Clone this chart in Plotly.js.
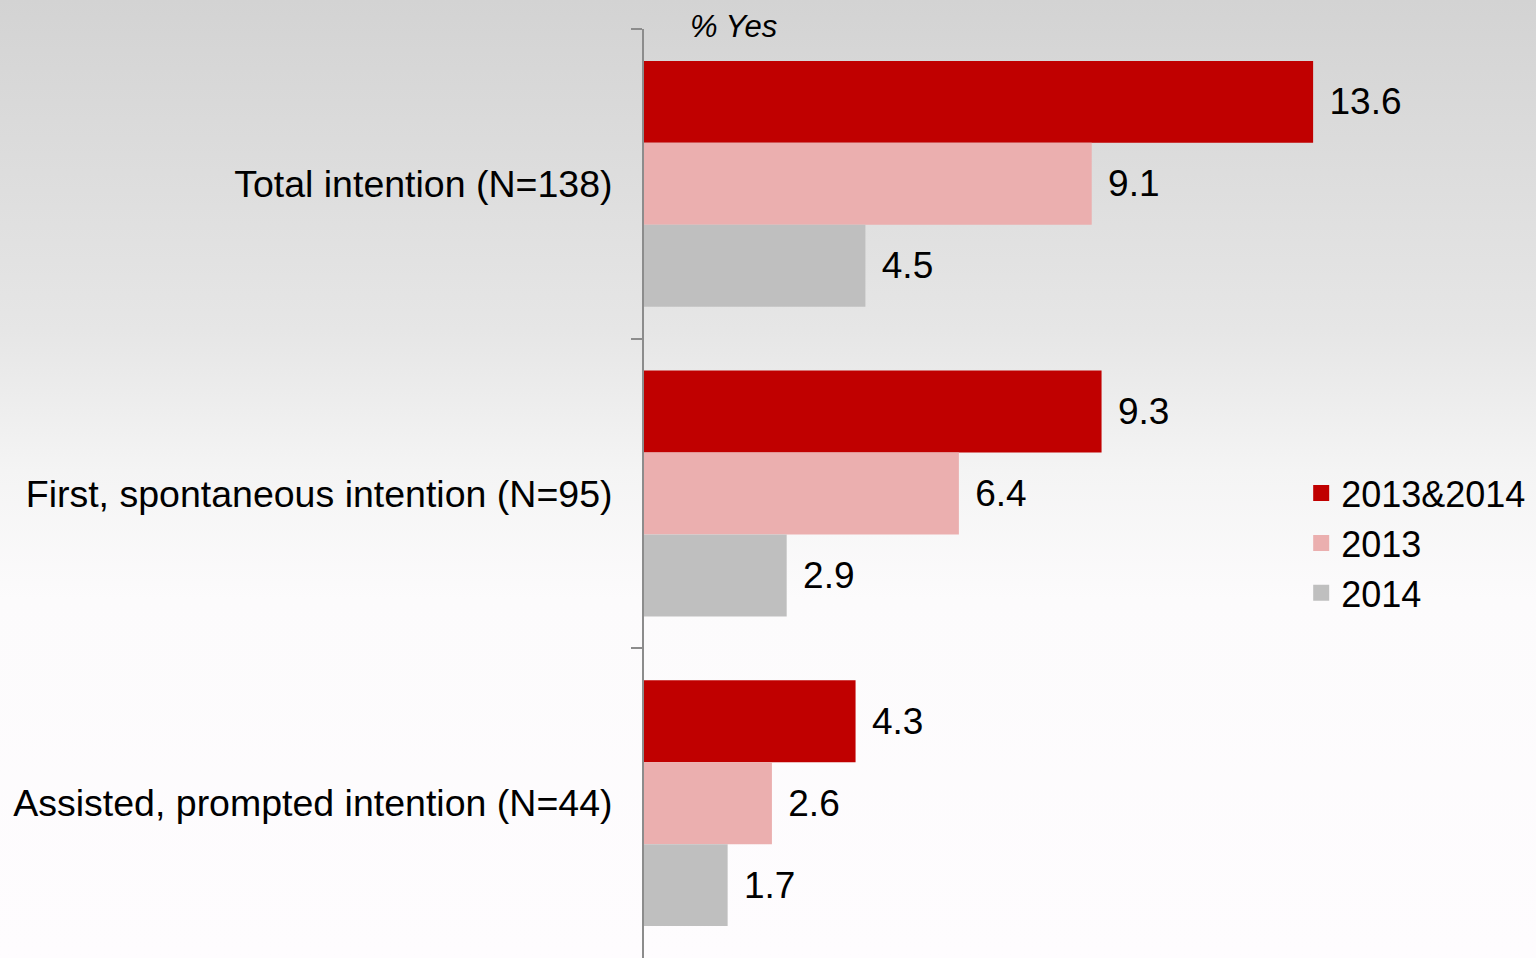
<!DOCTYPE html>
<html>
<head>
<meta charset="utf-8">
<script src="https://cdn.plot.ly/plotly-3.0.1.min.js"></script>
<style>
html,body{margin:0;padding:0;}
#chart{width:1536px;height:958px;background:linear-gradient(to bottom,#d3d3d3 0px,#dadada 120px,#e6e6e6 330px,#f4f4f4 470px,#fcfbfc 600px,#fefcfe 958px);}
</style>
</head>
<body>
<div id="chart"></div>
<script>
const categories = ["Total intention (N=138)", "First, spontaneous intention (N=95)", "Assisted, prompted intention (N=44)"];
const seriesNames = ["2013&2014", "2013", "2014"];
const values2013and2014 = [13.6, 9.3, 4.3];
const values2013 = [9.1, 6.4, 2.6];
const values2014 = [4.5, 2.9, 1.7];
const seriesColors = ["#c00000", "#ebafaf", "#bfbfbf"];
const axisLabel = "% Yes";

const seriesValues = [values2013and2014, values2013, values2014];
const FONT = '"Liberation Sans", Arial, sans-serif';

const traces = [];
seriesValues.forEach((vals, i) => {
  traces.push({
    type: 'bar', orientation: 'h',
    y: categories, x: vals,
    name: seriesNames[i],
    marker: {color: seriesColors[i]},
    text: vals.map(v => '\u00a0\u200a' + v.toFixed(1)),
    textposition: 'outside',
    textfont: {family: FONT, size: 37, color: '#000'},
    cliponaxis: false,
    showlegend: false,
    hoverinfo: 'x'
  });
});
seriesNames.forEach((n, i) => {
  traces.push({
    type: 'scatter', mode: 'markers',
    x: [null], y: [null],
    name: n,
    marker: {symbol: 'square', size: 19, color: seriesColors[i]},
    showlegend: true
  });
});

const layout = {
  width: 1536, height: 958,
  margin: {l: 644, r: 154, t: 29, b: 0},
  paper_bgcolor: 'rgba(0,0,0,0)',
  plot_bgcolor: 'rgba(0,0,0,0)',
  barmode: 'group',
  bargap: 0.206,
  bargroupgap: 0,
  font: {family: FONT, size: 36, color: '#000'},
  xaxis: {range: [0, 15], showgrid: false, zeroline: false, showline: false, showticklabels: false, ticks: ''},
  yaxis: {
    type: 'category',
    autorange: 'reversed',
    showline: true, linecolor: '#8c8c8c', linewidth: 2,
    ticks: 'outside', ticklen: 11, tickcolor: '#8c8c8c', tickwidth: 2,
    tickson: 'boundaries',
    showgrid: false, zeroline: false,
    tickfont: {family: FONT, size: 37.5, color: '#000'},
    ticklabelstandoff: 22
  },
  legend: {
    x: 0.8905, xanchor: 'left', y: 0.5326, yanchor: 'top',
    bgcolor: 'rgba(0,0,0,0)',
    font: {family: FONT, size: 36, color: '#000'},
    itemclick: false
  },
  annotations: [{
    text: axisLabel, xref: 'paper', yref: 'paper', x: 0.06, y: 1.003,
    xanchor: 'left', yanchor: 'middle', showarrow: false,
    font: {family: FONT, size: 31, color: '#000', style: 'italic'}
  }]
};

Plotly.newPlot('chart', traces, layout, {displayModeBar: false});
</script>
</body>
</html>
